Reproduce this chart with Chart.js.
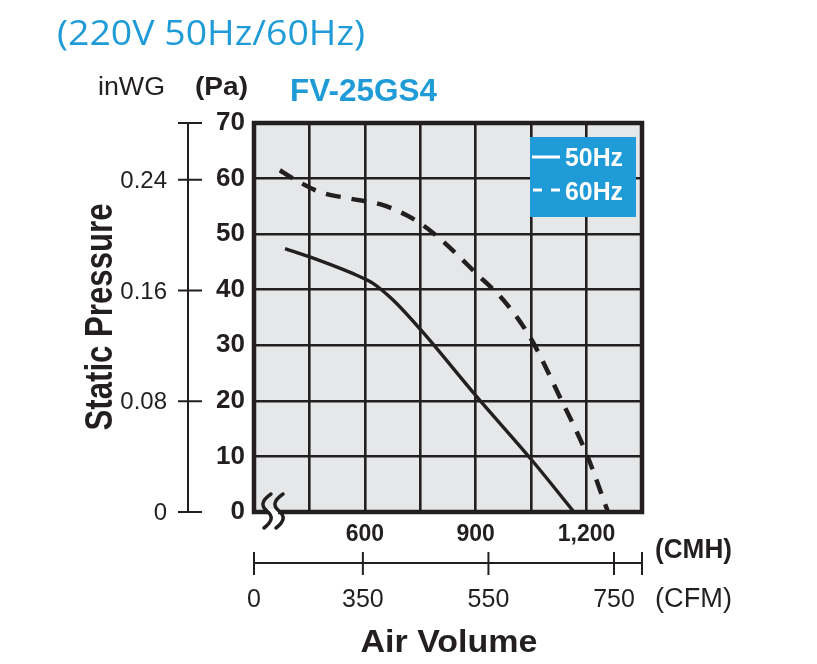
<!DOCTYPE html>
<html>
<head>
<meta charset="utf-8">
<script src="https://cdn.jsdelivr.net/npm/chart.js@4.4.0/dist/chart.umd.min.js"></script>
<style>
  html, body { margin: 0; padding: 0; background: #fff; }
  canvas { display: block; }
</style>
</head>
<body>
<canvas id="chart" width="817" height="664"></canvas>
<script>
// FV-25GS4 fan curves, air volume (CMH) vs static pressure (Pa)
const cmh50 = [384, 451, 578, 623, 677, 751, 902, 1051, 1166];
const pa50 = [47.4, 45.9, 42.6, 41.1, 38.1, 32.8, 20.8, 9.4, 0];

const cmh60 = [370, 406, 478, 560, 641, 713, 751, 803, 902, 983, 1051, 1127, 1199, 1258];
const pa60 = [61.5, 60.0, 57.6, 56.4, 55.4, 53.4, 51.9, 49.2, 42.9, 37.5, 31.0, 20.8, 10.6, 0];

const seriesNames = ['50Hz', '60Hz'];
const cmhTickLabels = [600, 900, 1200];
const inwgTicks = [0, 0.08, 0.16, 0.24];
const cfmTicks = [0, 350, 550, 750];

const INK = '#231f20';
const BLUE = '#1f9bd7';
const PA_PER_INWG = 249.09;
const CMH_PER_CFM = 1.699;

const toPoints = (xs, ys) => xs.map((x, i) => ({ x: x, y: ys[i] }));

// draw text, optionally squeezed to a given width
function text(ctx, str, x, y, font, color, align, width) {
    ctx.save();
    ctx.font = font;
    ctx.fillStyle = color;
    ctx.textBaseline = 'alphabetic';
    ctx.textAlign = 'left';
    const w = ctx.measureText(str).width;
    const sx = width ? width / w : 1;
    const drawn = w * sx;
    const left = align === 'center' ? x - drawn / 2 : align === 'right' ? x - drawn : x;
    ctx.translate(left, y);
    ctx.scale(sx, 1);
    ctx.fillText(str, 0, 0);
    ctx.restore();
}

// one S-shaped axis break stroke
function breakPath(ctx, dx) {
    ctx.moveTo(271 + dx, 494);
    ctx.bezierCurveTo(261 + dx, 501, 261 + dx, 506, 267 + dx, 511);
    ctx.bezierCurveTo(273 + dx, 516, 273 + dx, 521, 264 + dx, 528);
}

const decorPlugin = {
    id: 'decor',
    beforeDraw(chart) {
        const { ctx, chartArea: a } = chart;
        ctx.save();
        ctx.fillStyle = '#fff';
        ctx.fillRect(0, 0, chart.width, chart.height);
        ctx.fillStyle = '#e6e7e8';
        ctx.fillRect(a.left, a.top, a.right - a.left, a.bottom - a.top);
        ctx.restore();
    },
    afterDraw(chart) {
        const { ctx, chartArea: a } = chart;
        const xs = chart.scales.x, ys = chart.scales.y;
        ctx.save();

        // frame
        ctx.strokeStyle = INK;
        ctx.lineWidth = 4.5;
        ctx.strokeRect(a.left, a.top, a.right - a.left, a.bottom - a.top);

        // axis break marks
        ctx.fillStyle = '#fff';
        ctx.fillRect(268, 509, 10, 6);
        ctx.strokeStyle = INK;
        ctx.lineWidth = 3.5;
        ctx.lineCap = 'round';
        [0, 12].forEach(dx => {
            ctx.beginPath();
            breakPath(ctx, dx);
            ctx.stroke();
        });
        ctx.lineCap = 'butt';

        // legend box
        ctx.fillStyle = BLUE;
        ctx.fillRect(530, 137, 106, 80);
        ctx.strokeStyle = '#fff';
        ctx.lineWidth = 3;
        ctx.beginPath();
        ctx.moveTo(532, 157); ctx.lineTo(560, 157);
        ctx.moveTo(533, 190); ctx.lineTo(542, 190);
        ctx.moveTo(551, 190); ctx.lineTo(560, 190);
        ctx.stroke();
        text(ctx, seriesNames[0], 565, 166, 'bold 25px "Liberation Sans"', '#fff', 'left', 58);
        text(ctx, seriesNames[1], 565, 200, 'bold 25px "Liberation Sans"', '#fff', 'left', 58);

        // inWG axis
        ctx.strokeStyle = INK;
        ctx.lineWidth = 2;
        const ax = 188;
        ctx.beginPath();
        ctx.moveTo(ax, ys.getPixelForValue(ys.max));
        ctx.lineTo(ax, ys.getPixelForValue(0));
        ctx.moveTo(178, ys.getPixelForValue(ys.max));
        ctx.lineTo(202, ys.getPixelForValue(ys.max));
        inwgTicks.forEach(v => {
            const py = ys.getPixelForValue(v * PA_PER_INWG);
            ctx.moveTo(178, py);
            ctx.lineTo(202, py);
        });
        ctx.stroke();
        inwgTicks.forEach(v => {
            const py = ys.getPixelForValue(v * PA_PER_INWG);
            text(ctx, v === 0 ? '0' : v.toFixed(2), 167, py + 8, '24px "Liberation Sans"', INK, 'right');
        });

        // CFM axis
        const cy = 563;
        ctx.beginPath();
        ctx.moveTo(xs.getPixelForValue(xs.min), cy);
        ctx.lineTo(xs.getPixelForValue(xs.max), cy);
        const cfmPx = cfmTicks.map(v => v === 0 ? xs.getPixelForValue(xs.min) : xs.getPixelForValue(v * CMH_PER_CFM));
        cfmPx.concat([xs.getPixelForValue(xs.max)]).forEach(px => {
            ctx.moveTo(px, 552);
            ctx.lineTo(px, 575);
        });
        ctx.stroke();
        cfmTicks.forEach((v, i) => {
            text(ctx, String(v), cfmPx[i], 607, '25px "Liberation Sans"', INK, 'center');
        });

        // titles and unit labels
        text(ctx, '(220V 50Hz/60Hz)', 57, 45, '35px "Open Sans"', BLUE, 'left', 308);
        text(ctx, 'FV-25GS4', 290, 101, 'bold 31px "Liberation Sans"', BLUE, 'left', 147);
        text(ctx, 'inWG', 98, 95, '25px "Liberation Sans"', INK, 'left', 67);
        text(ctx, '(Pa)', 195, 95, 'bold 26px "Liberation Sans"', INK, 'left', 53);
        text(ctx, '(CMH)', 655, 558, 'bold 27px "Liberation Sans"', INK, 'left', 77);
        text(ctx, '(CFM)', 655, 607, '27px "Liberation Sans"', INK, 'left', 77);
        text(ctx, 'Air Volume', 449, 652, 'bold 31px "Liberation Sans"', INK, 'center', 177);

        ctx.save();
        ctx.translate(112, 317);
        ctx.rotate(-Math.PI / 2);
        text(ctx, 'Static Pressure', 0, 0, 'bold 38px "Liberation Sans"', INK, 'center', 227);
        ctx.restore();

        ctx.restore();
    }
};

new Chart(document.getElementById('chart'), {
    type: 'line',
    data: {
        datasets: [{
            label: seriesNames[0],
            data: toPoints(cmh50, pa50),
            borderColor: INK,
            borderWidth: 3.4,
            pointRadius: 0,
            cubicInterpolationMode: 'monotone',
            fill: false
        }, {
            label: seriesNames[1],
            data: toPoints(cmh60, pa60),
            borderColor: INK,
            borderWidth: 4.5,
            borderDash: [15, 11],
            pointRadius: 0,
            cubicInterpolationMode: 'monotone',
            fill: false
        }]
    },
    options: {
        responsive: false,
        animation: false,
        layout: {
            padding: { left: 0, top: 123, right: 175, bottom: 0 }
        },
        plugins: {
            legend: { display: false },
            tooltip: { enabled: false }
        },
        scales: {
            x: {
                type: 'linear',
                min: 300,
                max: 1350,
                afterFit: (s) => { s.height = 152; },
                grid: { color: INK, lineWidth: 2.6, drawTicks: false },
                border: { display: false },
                ticks: {
                    stepSize: 150,
                    autoSkip: false,
                    maxRotation: 0,
                    padding: 9,
                    color: INK,
                    font: { family: 'Liberation Sans', size: 23, weight: 'bold' },
                    callback: (v) => cmhTickLabels.includes(v) ? v.toLocaleString('en-US') : ''
                }
            },
            y: {
                min: 0,
                max: 70,
                afterFit: (s) => { s.width = 254; },
                grid: { color: INK, lineWidth: 2.6, drawTicks: false },
                border: { display: false },
                ticks: {
                    stepSize: 10,
                    padding: 9,
                    color: INK,
                    font: { family: 'Liberation Sans', size: 26, weight: 'bold' }
                }
            }
        }
    },
    plugins: [decorPlugin]
});
</script>
</body>
</html>
